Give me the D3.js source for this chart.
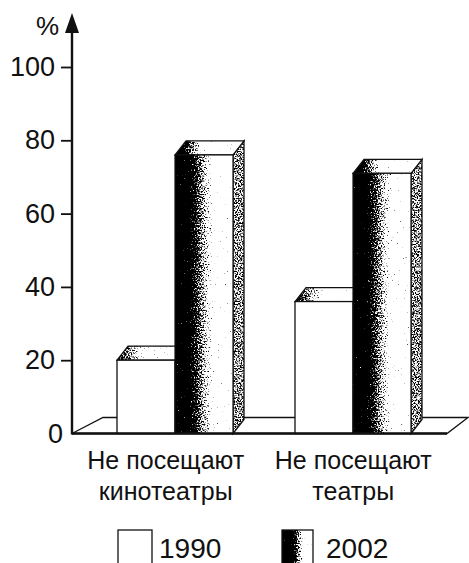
<!DOCTYPE html>
<html>
<head>
<meta charset="utf-8">
<script src="https://cdn.jsdelivr.net/npm/d3@7"></script>
<style>
  html, body { margin: 0; padding: 0; background: #fff; }
  svg { display: block; }
  text { font-family: "Liberation Sans", Arial, sans-serif; fill: #111; }
</style>
</head>
<body>
<svg id="chart" width="469" height="563"></svg>
<script>
// ---- data ----
const categories = ["Не посещают кинотеатры", "Не посещают театры"];
const categoryLines = [["Не посещают", "кинотеатры"], ["Не посещают", "театры"]];
const seriesNames = ["1990", "2002"];
const values1990 = [20, 36];
const values2002 = [76, 71];
const yTicks = [0, 20, 40, 60, 80, 100];
const yUnit = "%";

// ---- layout ----
const svg = d3.select("#chart");
const defs = svg.append("defs");

const y = d3.scaleLinear().domain([0, 100]).range([433.5, 67]);
const xGroup = d3.scaleBand().domain(categories).range([86, 442]).padding(0);
const xSeries = d3.scaleBand().domain(seriesNames).range([-58, 58]).padding(0);
const xLabel = d3.scaleBand().domain(categories).range([72, 447]).padding(0);

const axisX = 72;
const depthX = 11, depthY = -14;
const floorDepthY = -16;

// dithering filter (speckled print look)
const f = defs.append("filter").attr("id", "dither")
  .attr("x", 0).attr("y", 0).attr("width", 1).attr("height", 1)
  .attr("color-interpolation-filters", "sRGB");
f.append("feTurbulence").attr("type", "fractalNoise").attr("baseFrequency", 0.7)
  .attr("numOctaves", 3).attr("seed", 7).attr("result", "noise");
f.append("feColorMatrix").attr("in", "noise").attr("type", "matrix")
  .attr("values", "1 0 0 0 0  1 0 0 0 0  1 0 0 0 0  0 0 0 0 1").attr("result", "n");
f.append("feComposite").attr("in", "SourceGraphic").attr("in2", "n")
  .attr("operator", "arithmetic").attr("k1", 0).attr("k2", 1).attr("k3", 1.45).attr("k4", -0.725)
  .attr("result", "sum");
const ct = f.append("feComponentTransfer").attr("in", "sum").attr("result", "c");
["feFuncR", "feFuncG", "feFuncB"].forEach(fn =>
  ct.append(fn).attr("type", "linear").attr("slope", 4).attr("intercept", -1.5));
f.append("feComposite").attr("in", "c").attr("in2", "SourceGraphic").attr("operator", "in");

function gradient(id, stops) {
  const g = defs.append("linearGradient").attr("id", id)
    .attr("x1", 0).attr("x2", 1).attr("y1", 0).attr("y2", 0);
  stops.forEach(s => g.append("stop").attr("offset", s[0]).attr("stop-color", s[1]));
}
gradient("front2002", [[0, "#000"], [0.22, "#000"], [0.68, "#fff"], [1, "#fff"]]);
gradient("top2002", [[0, "#000"], [0.1, "#111"], [0.42, "#fff"], [1, "#fff"]]);
gradient("top1990", [[0, "#333"], [0.22, "#999"], [0.45, "#fff"], [1, "#fff"]]);
gradient("legend2002", [[0, "#000"], [0.3, "#000"], [0.75, "#fff"], [1, "#fff"]]);

// ---- floor ----
const y0 = y(0);
const floorLeft = axisX, floorRight = 447;
svg.append("path")
  .attr("d", d3.line()([[floorLeft, y0], [floorRight, y0],
    [floorRight + 21, y0 + floorDepthY], [floorLeft + 31, y0 + floorDepthY]]) + "Z")
  .attr("fill", "#fff").attr("stroke", "#111").attr("stroke-width", 1.3);

// ---- bars ----
const barData = [];
categories.forEach((c, i) => {
  barData.push({ cat: c, s: "1990", v: values1990[i] });
  barData.push({ cat: c, s: "2002", v: values2002[i] });
});

barData.forEach(d => {
  const x0 = xGroup(d.cat) + xGroup.bandwidth() / 2 + xSeries(d.s);
  const x1 = x0 + xSeries.bandwidth();
  const yt = y(d.v);
  const g = svg.append("g");
  const topPts = [[x0, yt], [x1, yt], [x1 + depthX, yt + depthY], [x0 + depthX, yt + depthY]];
  if (d.s === "2002") {
    const sidePts = [[x1, yt], [x1 + depthX, yt + depthY], [x1 + depthX, y0 + depthY], [x1, y0]];
    g.append("path").attr("d", d3.line()(sidePts) + "Z").attr("fill", "#888").attr("filter", "url(#dither)");
    g.append("path").attr("d", d3.line()(sidePts) + "Z").attr("fill", "none").attr("stroke", "#111").attr("stroke-width", 1.3);
    g.append("path").attr("d", d3.line()(topPts) + "Z").attr("fill", "url(#top2002)").attr("filter", "url(#dither)");
    g.append("path").attr("d", d3.line()(topPts) + "Z").attr("fill", "none").attr("stroke", "#111").attr("stroke-width", 1.2);
    g.append("rect").attr("x", x0).attr("y", yt).attr("width", x1 - x0).attr("height", y0 - yt)
      .attr("fill", "url(#front2002)").attr("filter", "url(#dither)");
    g.append("rect").attr("x", x0).attr("y", yt).attr("width", x1 - x0).attr("height", y0 - yt)
      .attr("fill", "none").attr("stroke", "#111").attr("stroke-width", 1.2);
  } else {
    g.append("path").attr("d", d3.line()(topPts) + "Z").attr("fill", "url(#top1990)").attr("filter", "url(#dither)");
    g.append("path").attr("d", d3.line()(topPts) + "Z").attr("fill", "none").attr("stroke", "#111").attr("stroke-width", 1.2);
    g.append("rect").attr("x", x0).attr("y", yt).attr("width", x1 - x0).attr("height", y0 - yt)
      .attr("fill", "#fff").attr("stroke", "#111").attr("stroke-width", 1.3);
  }
});

// floor front edge (thick)
svg.append("line").attr("x1", floorLeft).attr("x2", floorRight).attr("y1", y0).attr("y2", y0)
  .attr("stroke", "#111").attr("stroke-width", 2.4);

// ---- y axis ----
const axis = svg.append("g").attr("transform", `translate(${axisX},0)`)
  .call(d3.axisLeft(y).tickValues(yTicks).tickSize(11).tickPadding(6).tickSizeOuter(0));
axis.select(".domain").remove();
axis.selectAll(".tick line").attr("stroke", "#111").attr("stroke-width", 1.8);
axis.selectAll(".tick text").attr("font-size", 27).attr("fill", "#111")
  .attr("font-family", "'Liberation Sans', Arial, sans-serif");
axis.selectAll(".tick").filter(d => d === 0).select("line").remove();
axis.selectAll(".tick").filter(d => d === 0).select("text").attr("x", -9);

svg.append("line").attr("x1", axisX).attr("x2", axisX).attr("y1", y0 + 1).attr("y2", 28)
  .attr("stroke", "#111").attr("stroke-width", 2.4);
svg.append("path").attr("d", d3.line()([[axisX, 13], [axisX + 7, 33], [axisX - 7, 33]]) + "Z")
  .attr("fill", "#111");
svg.append("text").attr("x", 59).attr("y", 35).attr("text-anchor", "end")
  .attr("font-size", 26).text(yUnit);

// ---- category labels ----
categories.forEach((c, i) => {
  const cx = xLabel(c) + xLabel.bandwidth() / 2;
  const t = svg.append("text").attr("text-anchor", "middle").attr("font-size", 25);
  categoryLines[i].forEach((line, j) => {
    t.append("tspan").attr("x", cx).attr("y", 469 + j * 31).text(line);
  });
});

// ---- legend ----
const legend = [
  { name: seriesNames[0], boxX: 118, boxW: 34, fill: "#fff", filter: null, textX: 159 },
  { name: seriesNames[1], boxX: 282, boxW: 31, fill: "url(#legend2002)", filter: "url(#dither)", textX: 326 }
];
legend.forEach(l => {
  const r = svg.append("rect").attr("x", l.boxX).attr("y", 530).attr("width", l.boxW).attr("height", 40)
    .attr("fill", l.fill);
  if (l.filter) r.attr("filter", l.filter);
  svg.append("rect").attr("x", l.boxX).attr("y", 530).attr("width", l.boxW).attr("height", 40)
    .attr("fill", "none").attr("stroke", "#111").attr("stroke-width", 1.3);
  svg.append("text").attr("x", l.textX).attr("y", 558).attr("font-size", 28).text(l.name);
});
</script>
</body>
</html>
